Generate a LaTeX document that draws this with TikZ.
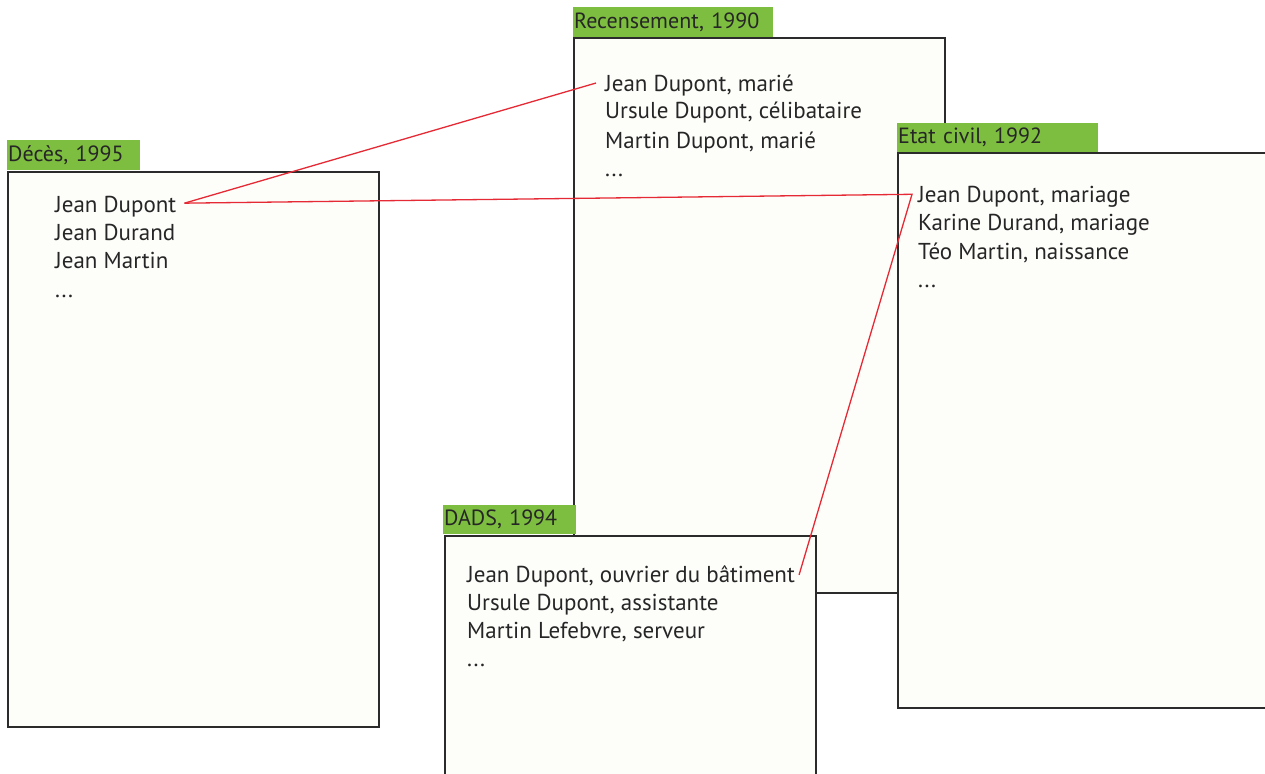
\documentclass[tikz,border=0pt]{standalone}
\usepackage{fontspec}
\setmainfont{PT Sans}
\definecolor{tabgreen}{HTML}{7DBD3F}
\definecolor{boxfill}{HTML}{FDFDFA}
\definecolor{boxline}{HTML}{2B2B2B}
\definecolor{linkred}{HTML}{E52A35}
\begin{document}
\begin{tikzpicture}[x=1pt,y=-1pt,
    box/.style={draw=boxline,fill=boxfill,line width=1.3pt},
    tab/.style={fill=tabgreen,anchor=north west,inner xsep=1pt,inner ysep=0pt,
                align=left,font=\fontsize{22}{26}\selectfont,text=black!85},
    entry/.style={anchor=base west,inner sep=0pt,font=\fontsize{23}{27}\selectfont,text=black!85},
    link/.style={draw=linkred,line width=1.3pt}]
    \useasboundingbox (0,0) rectangle (1265,773);
    \fill[white] (0,0) rectangle (1265,773);

    % Deces
    \draw[box] (8,172) rectangle (379,727);
    \node[tab,minimum width=133pt,minimum height=30pt,text width=131pt] (deces) at (7,140) {Décès, 1995};
    \node[entry] (deces-1) at (55,212) {Jean Dupont};
    \node[entry] (deces-2) at (55,240) {Jean Durand};
    \node[entry] (deces-3) at (55,268) {Jean Martin};
    \node[entry] (deces-4) at (55,297) {...};

    % Recensement
    \draw[box] (574,38) rectangle (945,593);
    \node[tab,minimum width=200pt,minimum height=30pt,text width=198pt] (recens) at (573,7) {Recensement, 1990};
    \node[entry] (recens-1) at (605,92) {Jean Dupont, marié};
    \node[entry] (recens-2) at (605,119) {Ursule Dupont, célibataire};
    \node[entry] (recens-3) at (605,148) {Martin Dupont, marié};
    \node[entry] (recens-4) at (605,176) {...};

    % Etat civil
    \draw[box] (898,153) rectangle (1280,708);
    \node[tab,minimum width=201pt,minimum height=29pt,text width=199pt] (etat) at (897,123) {Etat civil, 1992};
    \node[entry] (etat-1) at (918,202) {Jean Dupont, mariage};
    \node[entry] (etat-2) at (918,230) {Karine Durand, mariage};
    \node[entry] (etat-3) at (918,259) {Téo Martin, naissance};
    \node[entry] (etat-4) at (918,287) {...};

    % DADS
    \draw[box] (445,536) rectangle (816,790);
    \node[tab,minimum width=133pt,minimum height=29pt,text width=131pt] (dads) at (443,505) {DADS, 1994};
    \node[entry] (dads-1) at (467,582) {Jean Dupont, ouvrier du bâtiment};
    \node[entry] (dads-2) at (467,610) {Ursule Dupont, assistante};
    \node[entry] (dads-3) at (467,638) {Martin Lefebvre, serveur};
    \node[entry] (dads-4) at (467,666) {...};

    % Links between records
    \draw[link] ([xshift=8pt,yshift=3pt]deces-1.east) -- ([xshift=-9pt,yshift=3pt]recens-1.west);
    \draw[link] ([xshift=8pt,yshift=3pt]deces-1.east) -- ([xshift=-6pt,yshift=2pt]etat-1.west)
                -- ([xshift=4pt,yshift=1pt]dads-1.east);
\end{tikzpicture}
\end{document}
